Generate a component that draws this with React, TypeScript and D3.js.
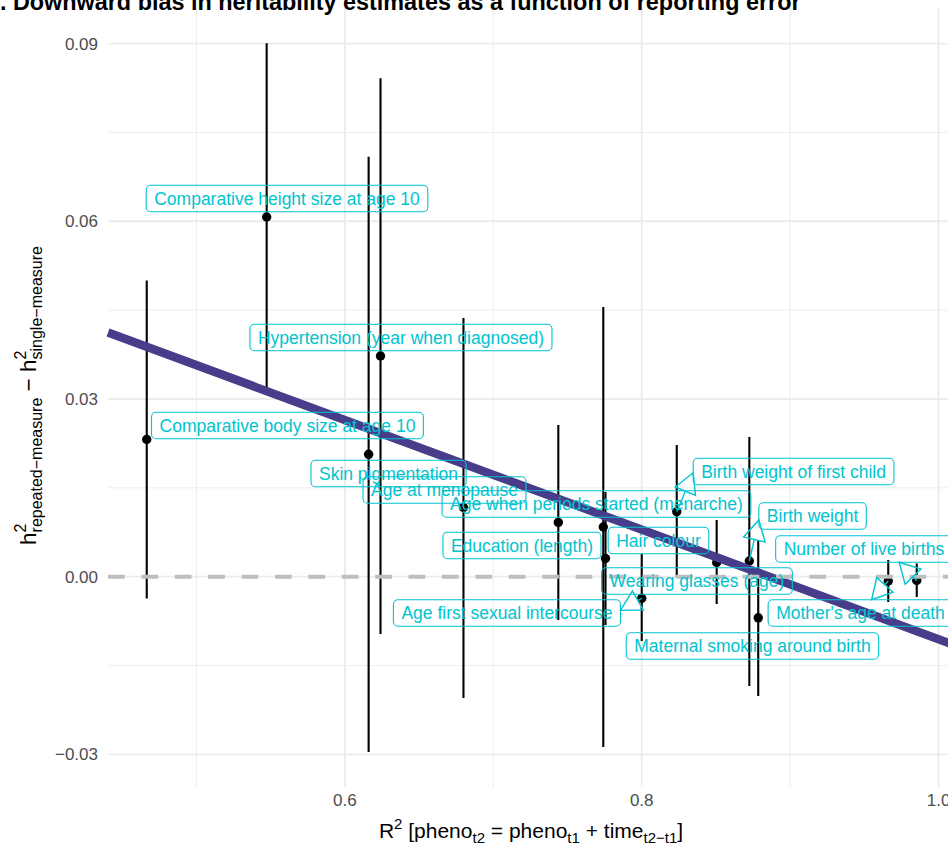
import React, { useEffect, useRef } from "react";
import * as d3 from "d3";

// ---- data ----
const traits = [
  "Comparative body size at age 10",
  "Comparative height size at age 10",
  "Skin pigmentation",
  "Hypertension (year when diagnosed)",
  "Age at menopause",
  "Education (length)",
  "Age when periods started (menarche)",
  "Hair colour",
  "Age first sexual intercourse",
  "Birth weight of first child",
  "Wearing glasses (age)",
  "Birth weight",
  "Maternal smoking around birth",
  "Mother's age at death",
  "Number of live births",
];
const r2Values = [0.4665, 0.5473, 0.616, 0.624, 0.6799, 0.7438, 0.7741, 0.7756, 0.8, 0.8236, 0.8505, 0.8725, 0.8785, 0.9661, 0.9853];
const h2Diff = [0.02316, 0.06072, 0.02066, 0.03726, 0.01168, 0.00917, 0.00839, 0.00307, -0.00365, 0.01097, 0.0024, 0.00265, -0.00694, -0.00073, -0.00064];
const ciLower = [-0.00368, 0.0314, -0.0296, -0.00967, -0.02048, -0.00731, -0.02875, -0.00815, -0.01085, -0.00005, -0.00461, -0.01845, -0.02014, -0.00427, -0.00343];
const ciUpper = [0.05, 0.09004, 0.0709, 0.08413, 0.04367, 0.02561, 0.04553, 0.0143, 0.00383, 0.02223, 0.00957, 0.02358, 0.0062, 0.00282, 0.00223];

const xTicks = [0.6, 0.8, 1.0];
const xMinorTicks = [0.5, 0.7, 0.9];
const yTicks = [-0.03, 0, 0.03, 0.06, 0.09];
const yMinorTicks = [-0.015, 0.015, 0.045, 0.075];
const yTickLabels = ["\u22120.03", "0.00", "0.03", "0.06", "0.09"];
const xTickLabels = ["0.6", "0.8", "1.0"];

const fitIntercept = 0.08199;
const fitSlope = -0.09256;

// ---- label layout (repelled label centres, data units) ----
const labelCenterX = [0.5613, 0.561, 0.6294, 0.6378, 0.6671, 0.7193, 0.7695, 0.8113, 0.7092, 0.9023, 0.8372, 0.9151, 0.8746, 0.9474, 0.9497];
const labelCenterY = [0.02552, 0.06384, 0.01742, 0.04038, 0.01464, 0.00527, 0.01227, 0.00611, -0.00613, 0.01776, -0.00073, 0.01025, -0.0117, -0.00613, 0.00468];
// where the arrow meets the label box (fraction of box width/height), null = no segment
const arrowAnchor: ([number, number] | null)[] = [
  null, null, null, null, null, null, null, null,
  [1, 0.4], [0, 0.55], null, [0, 0.65], null, [0.56, 0], [0.7, 1],
];

const W = 948;
const H = 846;
const FONT = "'Liberation Sans', Arial, Helvetica, sans-serif";
const LABEL_COLOR = "#00C4CE";

export default function App() {
  const ref = useRef<SVGSVGElement>(null);

  useEffect(() => {
    const svg = d3.select(ref.current);
    svg.selectAll("*").remove();
    const pL = 108, pR = 954, pT = 8, pB = 787;
    const x = d3.scaleLinear().domain([0.4404, 1.0104]).range([pL, pR]);
    const y = d3.scaleLinear().domain([-0.0355, 0.096]).range([pB, pT]);

    svg.append("rect").attr("width", W).attr("height", H).attr("fill", "#fff");

    // grid
    const g = svg.append("g");
    xMinorTicks.forEach((t) =>
      g.append("line").attr("x1", x(t)).attr("x2", x(t)).attr("y1", pT).attr("y2", pB)
        .attr("stroke", "#EBEBEB").attr("stroke-width", 0.9));
    yMinorTicks.forEach((t) =>
      g.append("line").attr("x1", pL).attr("x2", pR).attr("y1", y(t)).attr("y2", y(t))
        .attr("stroke", "#EBEBEB").attr("stroke-width", 0.9));
    xTicks.forEach((t) =>
      g.append("line").attr("x1", x(t)).attr("x2", x(t)).attr("y1", pT).attr("y2", pB)
        .attr("stroke", "#EBEBEB").attr("stroke-width", 1.8));
    yTicks.forEach((t) =>
      g.append("line").attr("x1", pL).attr("x2", pR).attr("y1", y(t)).attr("y2", y(t))
        .attr("stroke", "#EBEBEB").attr("stroke-width", 1.8));

    // error bars
    traits.forEach((_, i) => {
      svg.append("line").attr("x1", x(r2Values[i])).attr("x2", x(r2Values[i]))
        .attr("y1", y(ciLower[i])).attr("y2", y(ciUpper[i]))
        .attr("stroke", "#000").attr("stroke-width", 2.1);
    });
    // points
    traits.forEach((_, i) => {
      svg.append("circle").attr("cx", x(r2Values[i])).attr("cy", y(h2Diff[i])).attr("r", 4.7).attr("fill", "#000");
    });

    // regression line
    const dom = x.domain();
    svg.append("line")
      .attr("x1", x(dom[0])).attr("y1", y(fitIntercept + fitSlope * dom[0]))
      .attr("x2", x(dom[1])).attr("y2", y(fitIntercept + fitSlope * dom[1]))
      .attr("stroke", "#483D8B").attr("stroke-width", 8.5);

    // zero line
    svg.append("line").attr("x1", pL).attr("x2", pR).attr("y1", y(0)).attr("y2", y(0))
      .attr("stroke", "#BEBEBE").attr("stroke-width", 4).attr("stroke-dasharray", "16.7 16.7");

    // labels
    const fs = 17.5, padX = 8, boxH = 26.5;
    const lg = svg.append("g");
    traits.forEach((name, i) => {
      const cx = x(labelCenterX[i]);
      const cy = y(labelCenterY[i]);
      const t = lg.append("text").text(name).attr("font-family", FONT).attr("font-size", fs)
        .attr("fill", LABEL_COLOR).attr("text-anchor", "middle").attr("x", cx).attr("y", cy + 6.3);
      const tw = (t.node() as SVGTextElement).getComputedTextLength();
      const bw = tw + 2 * padX;
      const bx = cx - bw / 2, by = cy - boxH / 2;
      lg.insert("rect", "text").attr("x", bx).attr("y", by).attr("width", bw).attr("height", boxH)
        .attr("rx", 4.5).attr("ry", 4.5).attr("fill", "none").attr("stroke", LABEL_COLOR).attr("stroke-width", 1.1);
      const a = arrowAnchor[i];
      if (a) {
        const px = x(r2Values[i]), py = y(h2Diff[i]);
        const tx = bx + a[0] * bw, ty = by + a[1] * boxH;
        const dx = tx - px, dy = ty - py;
        const len = Math.hypot(dx, dy);
        const ux = dx / len, uy = dy / len;
        const L = 20, hw = 11;
        const bxp = tx - ux * L, byp = ty - uy * L;
        const p1 = [bxp - uy * hw, byp + ux * hw];
        const p2 = [bxp + uy * hw, byp - ux * hw];
        lg.append("line").attr("x1", px).attr("y1", py).attr("x2", bxp).attr("y2", byp)
          .attr("stroke", LABEL_COLOR).attr("stroke-width", 1.4);
        lg.append("path").attr("d", `M${tx},${ty}L${p1[0]},${p1[1]}L${p2[0]},${p2[1]}Z`)
          .attr("fill", "none").attr("stroke", LABEL_COLOR).attr("stroke-width", 1.4).attr("stroke-linejoin", "miter");
      }
    });

    // axes tick labels
    yTicks.forEach((t, i) =>
      svg.append("text").text(yTickLabels[i]).attr("x", 98).attr("y", y(t) + 6)
        .attr("text-anchor", "end").attr("font-family", FONT).attr("font-size", 17).attr("fill", "#4D4D4D"));
    xTicks.forEach((t, i) =>
      svg.append("text").text(xTickLabels[i]).attr("x", x(t)).attr("y", 806)
        .attr("text-anchor", "middle").attr("font-family", FONT).attr("font-size", 17).attr("fill", "#4D4D4D"));

    const seg = (el: any, txt: string, size: number, dy: number, dx = 0) =>
      el.append("tspan").text(txt).attr("font-size", size).attr("dy", dy).attr("dx", dx);

    // x title
    const xt = svg.append("text").attr("x", (pL + pR) / 2).attr("y", 838).attr("text-anchor", "middle")
      .attr("font-family", FONT).attr("font-size", 21).attr("fill", "#000");
    seg(xt, "R", 21, 0);
    seg(xt, "2", 15, -9);
    seg(xt, " [pheno", 21, 9);
    seg(xt, "t2", 15, 5);
    seg(xt, " = pheno", 21, -5);
    seg(xt, "t1", 15, 5);
    seg(xt, " + time", 21, -5);
    seg(xt, "t2\u2212t1", 15, 5);
    seg(xt, "]", 21, -5);

    // y title
    const yt = svg.append("text").attr("transform", `translate(36,${(pT + pB) / 2 - 2}) rotate(-90)`)
      .attr("text-anchor", "middle").attr("font-family", FONT).attr("font-size", 22).attr("fill", "#000");
    seg(yt, "h", 22.5, 0);
    seg(yt, "2", 16, -10);
    seg(yt, "repeated\u2212measure", 16, 15.5, -8.9);
    seg(yt, " \u2212 h", 22.5, -5.5);
    seg(yt, "2", 16, -10);
    seg(yt, "single\u2212measure", 16, 15.5, -8.9);

    // title
    svg.append("text").text("B. Downward bias in heritability estimates as a function of reporting error")
      .attr("x", -17).attr("y", 10).attr("font-family", FONT).attr("font-size", 23.4)
      .attr("font-weight", "bold").attr("fill", "#000");
  }, []);

  return (
    <svg ref={ref} width={W} height={H} style={{ position: "absolute", left: 0, top: 0 }} />
  );
}
